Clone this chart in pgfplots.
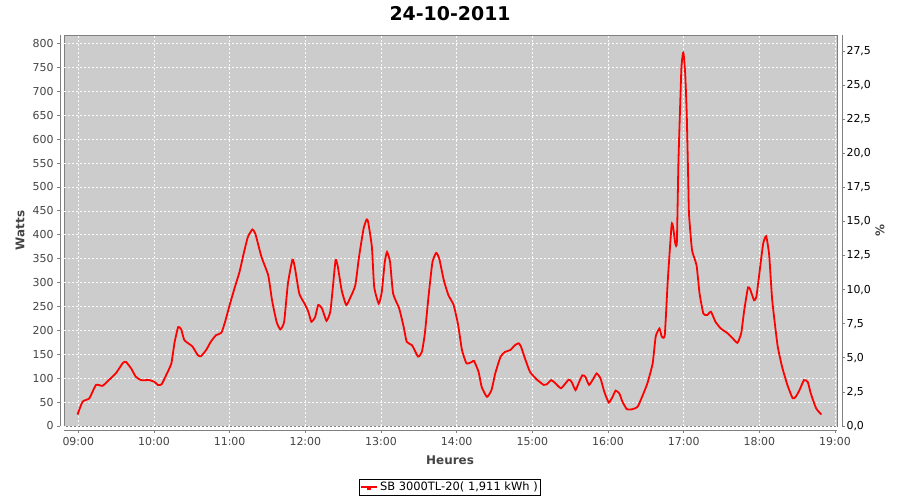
\documentclass[border=0pt]{standalone}
\usepackage{pgfplots}
\pgfplotsset{compat=1.18}
\usepackage{fontspec}
\setmainfont{DejaVu Sans}
\definecolor{plotbg}{RGB}{204,204,204}
\definecolor{axgray}{RGB}{128,128,128}
\definecolor{ticktext}{RGB}{68,68,68}
\begin{document}
\begin{tikzpicture}
\path[use as bounding box] (0,0) rectangle (900bp,-500bp);
\begin{axis}[
  at={(64bp,-426bp)}, anchor=south west,
  scale only axis, width=773bp, height=391bp,
  xmin=8.811, xmax=19.026, ymin=0, ymax=817.8,
  axis x line*=bottom, axis y line*=left,
  axis line style={-, draw=axgray, line width=0.8bp},
  x axis line style={yshift=-4bp},
  y axis line style={xshift=-4bp},
  tick align=outside, major tick length=3bp,
  xtick style={yshift=-4bp, draw=axgray, line width=0.8bp},
  ytick style={xshift=-4bp, draw=axgray, line width=0.8bp},
  axis background/.style={fill=plotbg, draw=axgray, line width=0.8bp},
  xtick={9,10,...,19},
  xticklabels={09:00,10:00,11:00,12:00,13:00,14:00,15:00,16:00,17:00,18:00,19:00},
  ytick={0,50,...,800},
  tick label style={font=\fontsize{11}{13}\selectfont, text=ticktext},
  xticklabel style={yshift=-5bp},
  yticklabel style={xshift=-4bp},
  /pgf/number format/assume math mode=true,
  grid=major,
  major grid style={draw=white!92!plotbg, dash pattern=on 2bp off 2bp, line width=0.6bp},
  xlabel={Heures},
  ylabel={Watts},
  xlabel style={at={(axis description cs:0.4994,-0.087)}, anchor=center, font=\bfseries\fontsize{12}{14}\selectfont, text=ticktext},
  ylabel style={at={(axis description cs:-0.0569,0.5)}, anchor=center, font=\bfseries\fontsize{12}{14}\selectfont, text=ticktext},
  title={24-10-2011},
  title style={at={(axis description cs:0.4994,1.039)}, anchor=center, font=\bfseries\fontsize{19}{22}\selectfont},
  legend style={at={(axis description cs:0.4994,-0.156)}, anchor=center, draw=black, line width=0.8bp, fill=white,
    font=\fontsize{11.5}{13}\selectfont, inner xsep=1bp, inner ysep=1bp, nodes={inner sep=2bp}},
  legend image code/.code={\draw[red, line width=1.8bp] (0bp,0bp) -- (16bp,0bp); \fill[red] (7bp,-2bp) rectangle (9bp,0bp);},
]
\addplot[red, line width=1.8bp, smooth, tension=0.3] coordinates {
(8.99,24) (9.057,51) (9.146,58) (9.234,86) (9.32,84) (9.41,97) (9.50,111) (9.59,132) (9.63,134)
(9.70,120) (9.76,103) (9.83,96) (9.94,96) (10.01,92) (10.05,86) (10.10,87) (10.16,106) (10.23,131)
(10.27,173) (10.32,207) (10.36,202) (10.40,180) (10.47,171) (10.51,166) (10.58,148) (10.62,146)
(10.69,159) (10.75,176) (10.82,190) (10.89,195) (10.94,218) (11.00,253) (11.07,291) (11.13,322)
(11.18,357) (11.24,395) (11.30,411) (11.34,402) (11.42,354) (11.51,315) (11.56,263) (11.62,218)
(11.67,202) (11.72,218) (11.77,298) (11.83,348) (11.86,333) (11.92,277) (11.99,256) (12.04,239)
(12.08,218) (12.13,228) (12.17,253) (12.22,246) (12.28,220) (12.33,239) (12.36,284) (12.40,347)
(12.43,333) (12.48,284) (12.54,253) (12.59,267) (12.66,294) (12.71,354) (12.77,413) (12.81,432)
(12.83,427) (12.88,374) (12.91,291) (12.97,256) (13.01,280) (13.05,343) (13.08,364) (13.12,343)
(13.16,277) (13.24,246) (13.30,207) (13.34,176) (13.41,169) (13.49,145) (13.54,155) (13.58,194)
(13.63,274) (13.68,343) (13.73,362) (13.77,350) (13.83,305) (13.89,274) (13.96,253) (14.02,211)
(14.07,159) (14.13,131) (14.20,134) (14.23,136) (14.29,113) (14.33,82) (14.40,61) (14.46,75)
(14.51,110) (14.58,145) (14.64,155) (14.71,159) (14.77,169) (14.82,173) (14.85,166) (14.91,138)
(14.97,113) (15.06,97) (15.15,86) (15.19,87) (15.25,96) (15.30,90) (15.38,79) (15.48,97) (15.52,92)
(15.57,75) (15.61,89) (15.66,106) (15.70,103) (15.75,86) (15.81,100) (15.85,110) (15.90,100)
(15.95,72) (16.01,49) (16.06,61) (16.10,74) (16.15,68) (16.19,51) (16.25,35) (16.32,35) (16.39,40)
(16.45,61) (16.52,89) (16.59,131) (16.63,187) (16.68,204) (16.71,187) (16.75,190) (16.79,305)
(16.84,420) (16.86,416) (16.89,381) (16.91,385) (16.93,549) (16.95,654) (16.97,750) (16.99,780)
(17.00,777) (17.02,737) (17.04,654) (17.06,514) (17.07,444) (17.11,368) (17.17,336) (17.21,277)
(17.26,235) (17.31,232) (17.36,239) (17.42,218) (17.49,204) (17.58,194) (17.65,183) (17.71,174)
(17.76,194) (17.80,242) (17.85,290) (17.88,285) (17.93,263) (17.96,270) (18.00,319) (18.05,381)
(18.09,397) (18.13,357) (18.17,263) (18.24,169) (18.30,124) (18.37,86) (18.44,58) (18.48,61)
(18.53,75) (18.59,96) (18.64,92) (18.68,68) (18.75,37) (18.82,24)
};
\addlegendentry{SB 3000TL-20( 1,911 kWh )}
\end{axis}
\begin{axis}[
  at={(64bp,-426bp)}, anchor=south west,
  scale only axis, width=773bp, height=391bp,
  xmin=8.811, xmax=19.026, ymin=0, ymax=28.67,
  axis x line=none, axis y line*=right,
  axis line style={-, draw=axgray, line width=0.8bp},
  y axis line style={xshift=5bp},
  tick align=outside, major tick length=3bp,
  ytick style={xshift=5bp, draw=axgray, line width=0.8bp},
  ytick={0,2.5,...,27.5},
  yticklabel style={xshift=3bp, font=\fontsize{11}{13}\selectfont, text=black,
    /pgf/number format/.cd, fixed, fixed zerofill, precision=1, use comma},
  /pgf/number format/assume math mode=true,
  ylabel={\%},
  ylabel style={at={(axis description cs:1.0556,0.5)}, anchor=center, rotate=180, font=\bfseries\fontsize{12}{14}\selectfont, text=ticktext},
]
\end{axis}
\end{tikzpicture}
\end{document}
